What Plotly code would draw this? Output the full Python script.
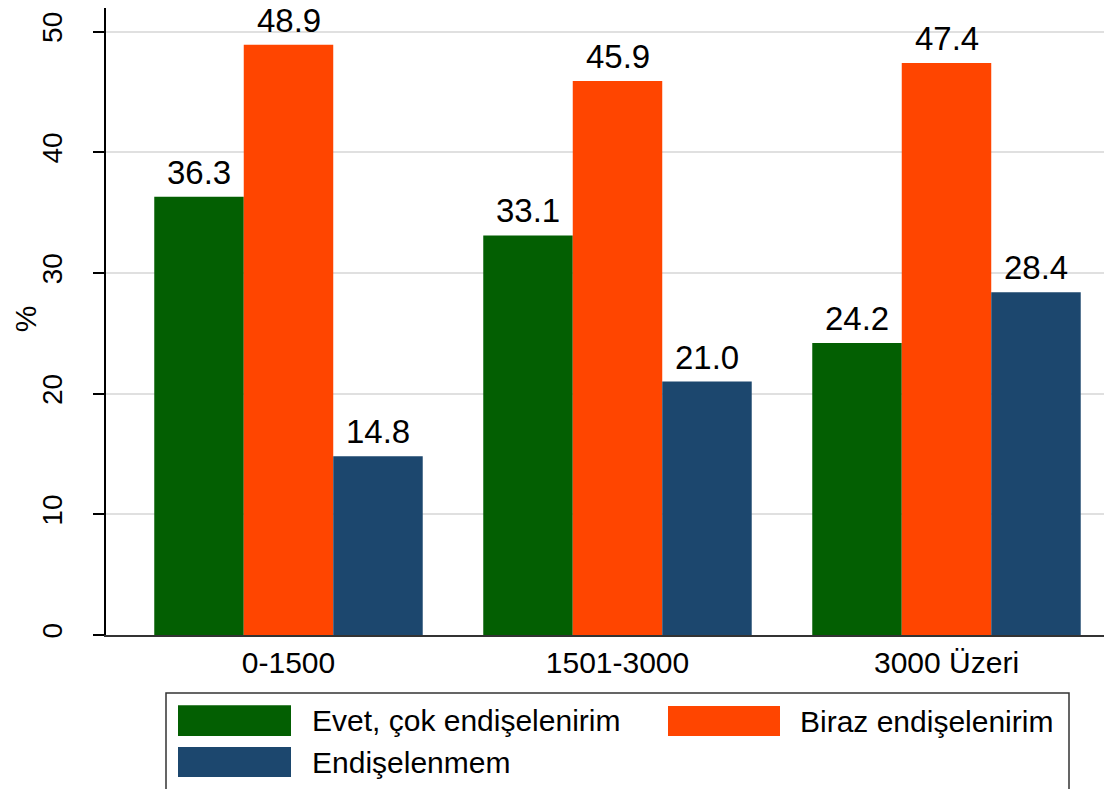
import plotly.graph_objects as go

categories = ["0-1500", "1501-3000", "3000 Üzeri"]
series_names = ["Evet, çok endişelenirim", "Biraz endişelenirim", "Endişelenmem"]
evet = [36.3, 33.1, 24.2]
biraz = [48.9, 45.9, 47.4]
endiselenmem = [14.8, 21.0, 28.4]
y_ticks = [0, 10, 20, 30, 40, 50]

colors = ["#035f02", "#ff4500", "#1c476e"]
series = [evet, biraz, endiselenmem]

# page body adds an 8px offset; work in window coordinates and convert
OFF = 8
W, H = 1112, 789
L, T = 106 - OFF, 0
PLOT_BOTTOM = 634.7 - OFF
B = H - PLOT_BOTTOM
R = 0
PW, PH = W - L - R, PLOT_BOTTOM - T

FONT = "Liberation Sans, Arial, sans-serif"
bar_w = 0.272
offsets = [-1.5 * bar_w, -0.5 * bar_w, 0.5 * bar_w]
xs = list(range(len(categories)))

px_per_unit_y = (634.7 - 31.5) / 50
ymax = (634.7 - OFF) / px_per_unit_y
x_left = -0.5547
x_right = x_left + PW / 329.0

fig = go.Figure()
for name, vals, col, off in zip(series_names, series, colors, offsets):
    fig.add_trace(go.Bar(
        x=xs, y=vals, name=name, width=bar_w, offset=off,
        marker=dict(color=col, line=dict(width=0)),
        showlegend=False,
    ))

annotations = []
for vals, off in zip(series, offsets):
    for xi, v in zip(xs, vals):
        annotations.append(dict(
            x=xi + off + bar_w / 2, y=v, xref="x", yref="y",
            text=f"{v:.1f}", showarrow=False, yanchor="bottom",
            yshift=4, font=dict(family=FONT, size=33, color="black"),
        ))

def px(xw):
    return (xw - OFF - L) / PW

def py(yw):
    return (T + PH - (yw - OFF)) / PH

# y axis title
annotations.append(dict(
    x=px(25), y=py(319), xref="paper", yref="paper", text="%",
    textangle=-90, showarrow=False, xanchor="center", yanchor="middle",
    font=dict(family=FONT, size=30, color="black"),
))

shapes = []
# legend box
shapes.append(dict(type="rect", xref="paper", yref="paper",
                   x0=px(166), x1=px(1069), y0=py(692.7), y1=py(830),
                   line=dict(color="#333333", width=1.5), fillcolor="white"))
legend_items = [
    (series_names[0], colors[0], 178, 291, 705, 735.7, 310),
    (series_names[1], colors[1], 668, 780, 705.7, 735.7, 798),
    (series_names[2], colors[2], 178, 291, 746.7, 776.7, 310),
]
for name, col, x0, x1, y0, y1, tx in legend_items:
    shapes.append(dict(type="rect", xref="paper", yref="paper",
                       x0=px(x0), x1=px(x1), y0=py(y0), y1=py(y1),
                       line=dict(width=0), fillcolor=col))
    annotations.append(dict(
        x=px(tx), y=py((y0 + y1) / 2), xref="paper", yref="paper",
        text=name, showarrow=False, xanchor="left", yanchor="middle",
        font=dict(family=FONT, size=30, color="black"),
    ))

fig.update_layout(
    width=W, height=H,
    margin=dict(l=L, r=R, t=T, b=B, pad=0),
    plot_bgcolor="white", paper_bgcolor="white",
    barmode="overlay",
    font=dict(family=FONT, size=30, color="black"),
    annotations=annotations,
    shapes=shapes,
    xaxis=dict(
        range=[x_left, x_right],
        tickmode="array", tickvals=xs, ticktext=categories,
        showgrid=False, zeroline=False,
        showline=True, linecolor="#333333", linewidth=2,
        ticks="", ticklabelstandoff=0,
        tickfont=dict(family=FONT, size=30, color="black"),
    ),
    yaxis=dict(
        range=[0, ymax],
        tickmode="array", tickvals=y_ticks,
        showgrid=True, gridcolor="#e0e0e0", gridwidth=2,
        zeroline=False,
        showline=True, linecolor="black", linewidth=1.5,
        ticks="outside", ticklen=11, tickwidth=1.5, tickcolor="black",
        tickangle=-90, ticklabelstandoff=20,
        tickfont=dict(family=FONT, size=28, color="black"),
    ),
)

fig.write_html("out.html")
